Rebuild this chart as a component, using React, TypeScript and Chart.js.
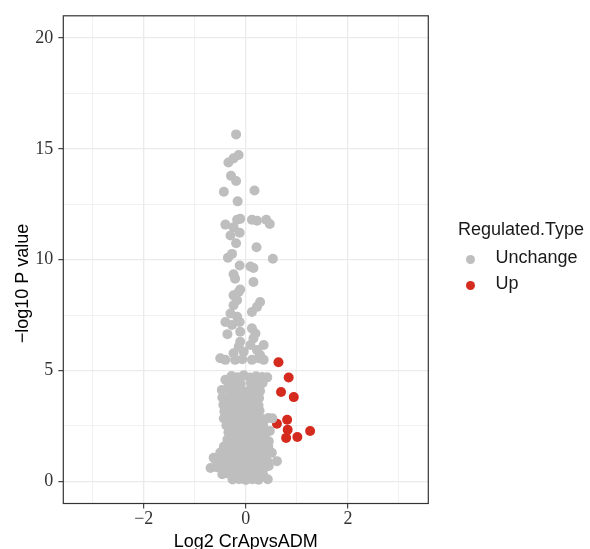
import React, { useEffect, useRef } from "react";
import { Chart, registerables } from "chart.js";

Chart.register(...registerables);

// ---------- data ----------
const upX = [0.64, 0.84, 0.69, 0.94, 0.81, 0.61, 0.82, 1.26, 0.79, 1.01];
const upY = [5.37, 4.68, 4.03, 3.8, 2.78, 2.6, 2.33, 2.27, 1.96, 2.0];

const unchangeX = [
  // sparse upper part
  -0.19, -0.14, -0.24, -0.34, -0.29, -0.19, -0.43, 0.17, -0.16,
  -0.17, -0.11, 0.12, 0.22, 0.4, 0.47, -0.4, -0.24, -0.12, -0.3, -0.19,
  0.21, -0.27, -0.35, 0.53, -0.12, 0.09, 0.15, -0.24, -0.21, 0.15, -0.11,
  // middle part
  -0.14, -0.24, -0.17, 0.28, -0.24, 0.22, 0.12, -0.3, -0.17, -0.4, -0.12,
  -0.27, 0.12, -0.11, -0.36, 0.19, 0.15, -0.11, 0.09, -0.14, 0.35, -0.04,
  0.22, -0.24, 0.28, -0.5, -0.4, -0.21, -0.07, 0.12, 0.25, 0.35,
  // dense part
  -0.28, -0.16, -0.04, 0.08, 0.2, 0.32, 0.42, -0.4,
  -0.34, -0.22, -0.1, 0.1, 0.22, 0.33,
  -0.47, -0.3, -0.18, -0.05, 0.07, 0.19, 0.28,
  -0.46, -0.33, -0.21, -0.08, 0.05, 0.17, 0.26,
  -0.44, -0.31, -0.19, -0.06, 0.06, 0.18, 0.25,
  -0.42, -0.3, -0.17, -0.04, 0.09, 0.21, 0.27,
  -0.43, -0.29, -0.16, -0.03, 0.1, 0.22, 0.32, 0.44, 0.52,
  -0.38, -0.25, -0.12, 0.0, 0.13, 0.24, 0.34,
  -0.34, -0.21, -0.08, 0.05, 0.17, 0.29, 0.4, 0.47,
  -0.36, -0.22, -0.09, 0.04, 0.16, 0.28, 0.38, 0.45,
  -0.43, -0.29, -0.16, -0.03, 0.1, 0.22, 0.34, 0.44,
  -0.5, -0.41, -0.28, -0.15, -0.02, 0.11, 0.24, 0.37, 0.51, -0.63,
  -0.6, -0.49, -0.36, -0.23, -0.1, 0.03, 0.16, 0.29, 0.42, 0.61,
  -0.69, -0.56, -0.42, -0.29, -0.16, -0.03, 0.1, 0.23, 0.36, 0.45,
  -0.46, -0.33, -0.2, -0.07, 0.06, 0.19, 0.34,
  -0.26, -0.13, 0.0, 0.13, 0.25, 0.43,
];
const unchangeY = [
  15.65, 14.72, 14.57, 14.38, 13.78, 13.55, 13.06, 13.12, 12.63,
  11.8, 11.84, 11.8, 11.76, 11.8, 11.61, 11.58, 11.46, 11.21, 11.09, 10.74,
  10.56, 10.26, 10.09, 10.04, 9.74, 9.69, 9.62, 9.34, 9.14, 8.99, 8.65,
  8.54, 8.39, 8.17, 8.09, 7.94, 7.87, 7.64, 7.57, 7.42, 7.19, 7.19,
  7.05, 6.9, 6.75, 6.64, 6.67, 6.45, 6.3, 6.15, 6.07, 6.15, 5.85,
  5.92, 5.78, 5.7, 5.55, 5.48, 5.48, 5.51, 5.48, 5.55, 5.48,
  4.75, 4.7, 4.78, 4.68, 4.74, 4.71, 4.69, 4.58,
  4.42, 4.45, 4.4, 4.43, 4.38, 4.44,
  4.12, 4.08, 4.11, 4.06, 4.1, 4.13, 4.07,
  3.78, 3.8, 3.75, 3.79, 3.77, 3.81, 3.76,
  3.45, 3.47, 3.43, 3.46, 3.44, 3.48, 3.42,
  3.15, 3.13, 3.17, 3.14, 3.16, 3.12, 3.18,
  2.84, 2.86, 2.82, 2.85, 2.83, 2.87, 2.81, 2.86, 2.84,
  2.52, 2.5, 2.54, 2.51, 2.53, 2.49, 2.55,
  2.2, 2.22, 2.18, 2.21, 2.19, 2.23, 2.2, 2.27,
  1.88, 1.9, 1.86, 1.89, 1.87, 1.91, 1.85, 1.81,
  1.57, 1.59, 1.55, 1.58, 1.56, 1.6, 1.54, 1.57,
  1.3, 1.26, 1.28, 1.24, 1.27, 1.25, 1.29, 1.26, 1.29, 1.06,
  0.99, 0.95, 0.97, 0.93, 0.96, 0.94, 0.98, 0.95, 0.92, 0.91,
  0.6, 0.63, 0.65, 0.61, 0.64, 0.62, 0.66, 0.63, 0.6, 0.69,
  0.32, 0.34, 0.3, 0.33, 0.31, 0.35, 0.29,
  0.08, 0.1, 0.06, 0.09, 0.07, 0.09,
];

const xMajorTicks = [-2, 0, 2];
const xMinorTicks = [-3, -1, 1, 3];
const xTickLabels = ["\u22122", "0", "2"];
const yMajorTicks = [0, 5, 10, 15, 20];
const yMinorTicks = [2.5, 7.5, 12.5, 17.5];
const yTickLabels = ["0", "5", "10", "15", "20"];

const seriesNames = ["Unchange", "Up"];
const legendTitle = "Regulated.Type";
const xTitle = "Log2 CrApvsADM";
const yTitle = "\u2212log10 P value";

// ---------- styles ----------
const GREY = "#BEBEBE";
const RED = "#D52B1E";
const GRID = "#EBEBEB";
const SANS = '"Liberation Sans", Arial, sans-serif';
const SERIF = '"Liberation Serif", "Times New Roman", serif';

const panelFrame = {
  id: "panelFrame",
  afterDraw(chart: any) {
    const { ctx, chartArea } = chart;
    const { left, top, right, bottom } = chartArea;
    ctx.save();
    ctx.strokeStyle = "#333333";
    ctx.lineWidth = 1.2;
    ctx.strokeRect(left, top, right - left, bottom - top);
    ctx.restore();
  },
};

const yAxisTitle = {
  id: "yAxisTitle",
  afterDraw(chart: any) {
    const ctx = chart.ctx;
    ctx.save();
    ctx.translate(23, 283.5);
    ctx.rotate(-Math.PI / 2);
    ctx.font = `18px ${SANS}`;
    ctx.fillStyle = "#000000";
    ctx.textAlign = "center";
    ctx.textBaseline = "middle";
    ctx.fillText(yTitle, 0, 0);
    ctx.restore();
  },
};

const sideLegend = {
  id: "sideLegend",
  afterDraw(chart: any) {
    const ctx = chart.ctx;
    ctx.save();
    ctx.font = `18px ${SANS}`;
    ctx.fillStyle = "#1A1A1A";
    ctx.textAlign = "left";
    ctx.textBaseline = "middle";
    ctx.fillText(legendTitle, 458, 230);
    const colors = [GREY, RED];
    const rows = [259.5, 285.5];
    seriesNames.forEach((name, i) => {
      ctx.beginPath();
      ctx.fillStyle = colors[i];
      ctx.arc(470.5, rows[i], 4.5, 0, Math.PI * 2);
      ctx.fill();
      ctx.fillStyle = "#1A1A1A";
      ctx.fillText(name, 495.5, rows[i] - 1.5);
    });
    ctx.restore();
  },
};

function isIn(list: number[], v: number) {
  return list.some((t) => Math.abs(t - v) < 1e-9);
}

export default function App() {
  const ref = useRef<HTMLCanvasElement | null>(null);

  useEffect(() => {
    if (!ref.current) return;
    const grey = unchangeX.map((x, i) => ({ x, y: unchangeY[i] }));
    const red = upX.map((x, i) => ({ x, y: upY[i] }));
    const xAll = [...xMajorTicks, ...xMinorTicks].sort((a, b) => a - b);
    const yAll = [...yMajorTicks, ...yMinorTicks].sort((a, b) => a - b);

    const gridOpts = (major: number[]) => ({
      color: GRID,
      lineWidth: (c: any) => (c.tick && isIn(major, c.tick.value) ? 1.3 : 0.7),
      drawTicks: true,
      tickLength: 5,
      tickWidth: 1.1,
      tickColor: (c: any) =>
        c.tick && isIn(major, c.tick.value) ? "#333333" : "rgba(0,0,0,0)",
    });

    const chart = new Chart(ref.current, {
      type: "scatter",
      data: {
        datasets: [
          {
            label: seriesNames[0],
            data: grey,
            backgroundColor: GREY,
            borderWidth: 0,
            pointRadius: 5,
            pointHoverRadius: 5,
          },
          {
            label: seriesNames[1],
            data: red,
            backgroundColor: RED,
            borderWidth: 0,
            pointRadius: 5,
            pointHoverRadius: 5,
          },
        ],
      },
      options: {
        animation: false,
        responsive: false,
        devicePixelRatio: 1,
        events: [],
        layout: { padding: { left: 0, right: 161.7, top: 14.7, bottom: 0 } },
        plugins: {
          legend: { display: false },
          tooltip: { enabled: false },
        },
        scales: {
          x: {
            type: "linear",
            min: -3.575,
            max: 3.575,
            afterBuildTicks: (s: any) => {
              s.ticks = xAll.map((v) => ({ value: v }));
            },
            afterFit: (s: any) => {
              s.height = 45.5;
            },
            ticks: {
              autoSkip: false,
              maxRotation: 0,
              padding: 0,
              color: "#333333",
              font: { family: SERIF, size: 18, lineHeight: 1.2 },
              callback: (v: any) => {
                const i = xMajorTicks.findIndex((t) => Math.abs(t - v) < 1e-9);
                return i >= 0 ? xTickLabels[i] : "";
              },
            },
            grid: gridOpts(xMajorTicks) as any,
            border: { display: false },
            title: {
              display: true,
              text: xTitle,
              color: "#000000",
              font: { family: SANS, size: 18, lineHeight: 0.8 },
              padding: { top: 0, bottom: 0 },
            },
          },
          y: {
            type: "linear",
            min: -1,
            max: 21,
            afterBuildTicks: (s: any) => {
              s.ticks = yAll.map((v) => ({ value: v }));
            },
            afterFit: (s: any) => {
              s.width = 63.3;
            },
            ticks: {
              autoSkip: false,
              padding: 5,
              color: "#333333",
              font: { family: SERIF, size: 18, lineHeight: 1.2 },
              callback: (v: any) => {
                const i = yMajorTicks.findIndex((t) => Math.abs(t - v) < 1e-9);
                return i >= 0 ? yTickLabels[i] : "";
              },
            },
            grid: gridOpts(yMajorTicks) as any,
            border: { display: false },
            title: { display: false },
          },
        },
      },
      plugins: [panelFrame, yAxisTitle, sideLegend],
    });
    return () => chart.destroy();
  }, []);

  return (
    <div style={{ position: "absolute", left: 0, top: 0, width: 590, height: 549, background: "#fff" }}>
      <canvas ref={ref} width={590} height={549} style={{ display: "block" }} />
    </div>
  );
}
